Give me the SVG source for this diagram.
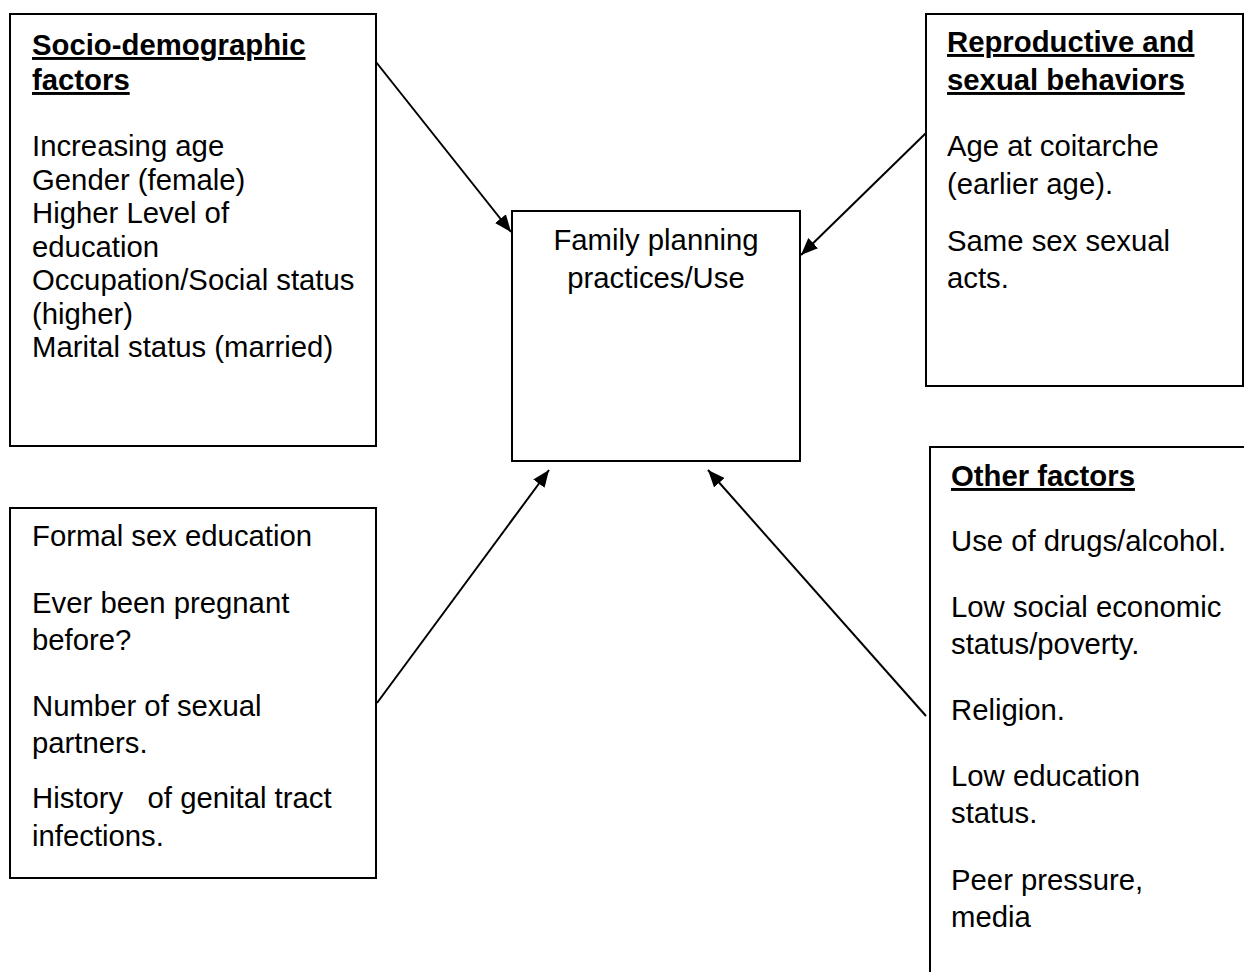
<svg xmlns="http://www.w3.org/2000/svg" width="1244" height="972" viewBox="0 0 1244 972">
<style>
.box{fill:#fff;stroke:#000;stroke-width:2}
.t{font-family:"Liberation Sans",Arial,sans-serif;font-size:29.3px;fill:#000}
.h{font-weight:bold;text-decoration:underline}
.c{text-anchor:middle}
.conn{stroke:#000;stroke-width:2;fill:none}
</style>
<defs>
<marker id="arr" markerUnits="userSpaceOnUse" markerWidth="18" markerHeight="14" refX="17" refY="7" orient="auto">
<path d="M0,0 L17,7 L0,14 z" fill="#000"/>
</marker>
</defs>
<rect width="1244" height="972" fill="#fff"/>
<g id="connectors">
<line class="conn" x1="376" y1="62" x2="511" y2="232" marker-end="url(#arr)"/>
<line class="conn" x1="926" y1="133" x2="801" y2="255" marker-end="url(#arr)"/>
<line class="conn" x1="377" y1="703" x2="549" y2="470" marker-end="url(#arr)"/>
<line class="conn" x1="926" y1="716" x2="708" y2="470" marker-end="url(#arr)"/>
</g>
<g id="socio">
<rect class="box" x="10" y="14" width="366" height="432"/>
<text class="t h" x="32" y="55">Socio-demographic</text>
<text class="t h" x="32" y="90">factors</text>
<text class="t" x="32" y="156">Increasing age</text>
<text class="t" x="32" y="189.5">Gender (female)</text>
<text class="t" x="32" y="223">Higher Level of</text>
<text class="t" x="32" y="256.5">education</text>
<text class="t" x="32" y="290">Occupation/Social status</text>
<text class="t" x="32" y="323.5">(higher)</text>
<text class="t" x="32" y="357">Marital status (married)</text>
</g>
<g id="repro">
<rect class="box" x="926" y="14" width="317" height="372"/>
<text class="t h" x="947" y="52">Reproductive and</text>
<text class="t h" x="947" y="90">sexual behaviors</text>
<text class="t" x="947" y="156">Age at coitarche</text>
<text class="t" x="947" y="194">(earlier age).</text>
<text class="t" x="947" y="251">Same sex sexual</text>
<text class="t" x="947" y="288">acts.</text>
</g>
<g id="center">
<rect class="box" x="512" y="211" width="288" height="250"/>
<text class="t c" x="656" y="250">Family planning</text>
<text class="t c" x="656" y="288">practices/Use</text>
</g>
<g id="education">
<rect class="box" x="10" y="508" width="366" height="370"/>
<text class="t" x="32" y="546">Formal sex education</text>
<text class="t" x="32" y="613">Ever been pregnant</text>
<text class="t" x="32" y="650">before?</text>
<text class="t" x="32" y="716">Number of sexual</text>
<text class="t" x="32" y="753">partners.</text>
<text class="t" x="32" y="808" xml:space="preserve">History   of genital tract</text>
<text class="t" x="32" y="846">infections.</text>
</g>
<g id="other">
<rect class="box" x="930" y="447" width="330" height="545"/>
<text class="t h" x="951" y="486">Other factors</text>
<text class="t" x="951" y="551">Use of drugs/alcohol.</text>
<text class="t" x="951" y="617">Low social economic</text>
<text class="t" x="951" y="654">status/poverty.</text>
<text class="t" x="951" y="720">Religion.</text>
<text class="t" x="951" y="786">Low education</text>
<text class="t" x="951" y="823">status.</text>
<text class="t" x="951" y="890">Peer pressure,</text>
<text class="t" x="951" y="927">media</text>
</g>
</svg>
